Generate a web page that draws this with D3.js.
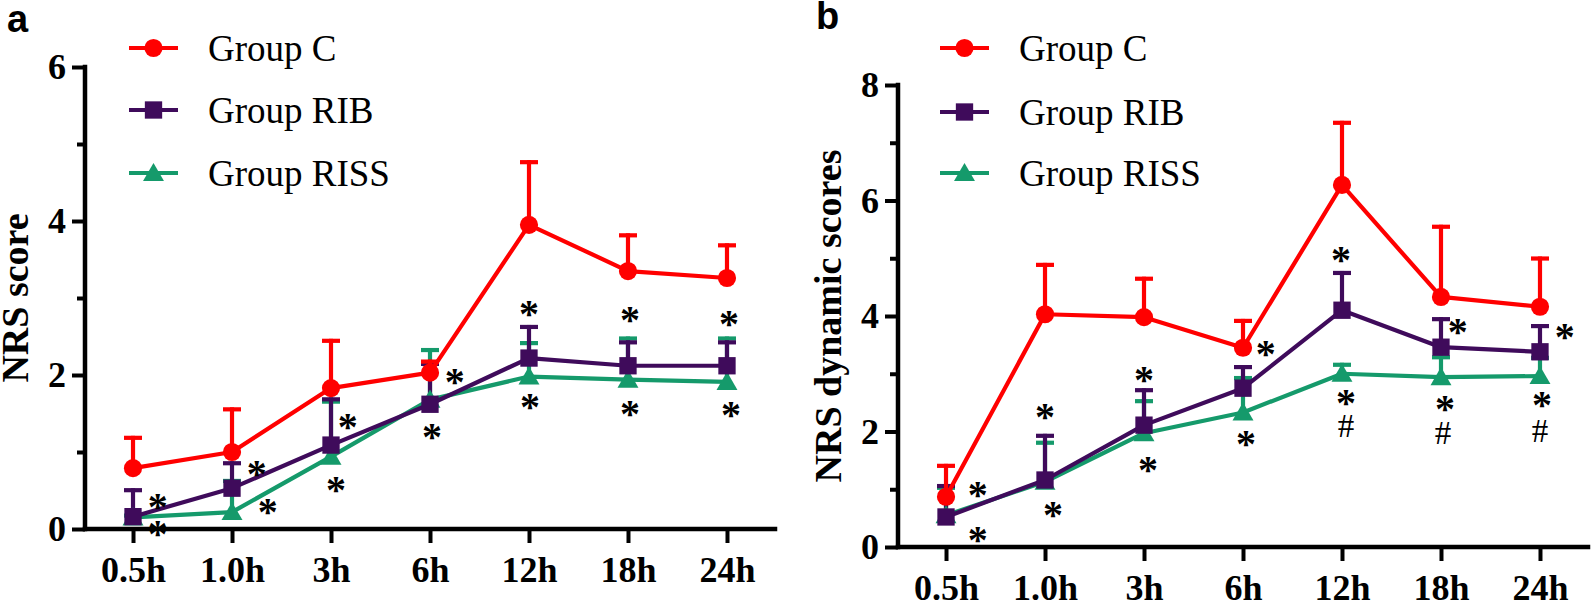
<!DOCTYPE html>
<html>
<head>
<meta charset="utf-8">
<script src="https://cdn.jsdelivr.net/npm/d3@7"></script>
<style>
  html, body { margin: 0; padding: 0; background: #fff; }
  svg { display: block; }
</style>
</head>
<body>
<svg id="chart" width="1594" height="603"></svg>
<script>
// ---------- DATA ----------
const timepoints = ["0.5h", "1.0h", "3h", "6h", "12h", "18h", "24h"];
const groupNames = ["Group C", "Group RIB", "Group RISS"];

// Panel a: NRS score (mean, SD)
const aC_mean    = [0.79, 1.00, 1.83, 2.03, 3.95, 3.35, 3.26];
const aC_sd      = [0.42, 0.58, 0.64, 0.17, 0.84, 0.49, 0.45];
const aRIB_mean  = [0.16, 0.53, 1.09, 1.62, 2.22, 2.12, 2.12];
const aRIB_sd    = [0.37, 0.35, 0.62, 0.55, 0.43, 0.33, 0.33];
const aRISS_mean = [0.15, 0.22, 0.94, 1.68, 1.98, 1.94, 1.91];
const aRISS_sd   = [0.05, 0.43, 0.74, 0.67, 0.46, 0.56, 0.59];
const aYTicks = [0, 2, 4, 6];
const aYMinor = [1, 3, 5];
// annotations: [fractional time index, y value, symbol]
const aMarks = [
  [0.25, 0.38, "*"], [0.25, 0.03, "*"],
  [1.25, 0.81, "*"], [1.36, 0.31, "*"],
  [2.17, 1.42, "*"], [2.05, 0.60, "*"],
  [3.25, 2.00, "*"], [3.02, 1.29, "*"],
  [4.00, 2.88, "*"], [4.01, 1.68, "*"],
  [5.02, 2.81, "*"], [5.02, 1.58, "*"],
  [6.02, 2.75, "*"], [6.04, 1.57, "*"]
];

// Panel b: NRS dynamic scores (mean, SD)
const bC_mean    = [0.87, 4.03, 3.98, 3.45, 6.27, 4.33, 4.16];
const bC_sd      = [0.57, 0.89, 0.70, 0.50, 1.11, 1.25, 0.87];
const bRIB_mean  = [0.52, 1.16, 2.11, 2.75, 4.10, 3.46, 3.38];
const bRIB_sd    = [0.57, 0.80, 0.64, 0.40, 0.68, 0.52, 0.48];
const bRISS_mean = [0.55, 1.13, 1.97, 2.33, 3.00, 2.94, 2.96];
const bRISS_sd   = [0.51, 0.71, 0.59, 0.63, 0.19, 0.38, 0.35];
const bYTicks = [0, 2, 4, 6, 8];
const bYMinor = [1, 3, 5, 7];
const bMarks = [
  [0.32, 1.02, "*"], [0.32, 0.24, "*"],
  [1.00, 2.37, "*"], [1.08, 0.68, "*"],
  [2.00, 3.01, "*"], [2.04, 1.45, "*"],
  [3.23, 3.46, "*"], [3.03, 1.90, "*"],
  [3.99, 5.09, "*"], [4.04, 2.62, "*"], [4.04, 2.12, "#"],
  [5.17, 3.84, "*"], [5.04, 2.51, "*"], [5.02, 1.99, "#"],
  [6.25, 3.76, "*"], [6.02, 2.58, "*"], [6.00, 2.02, "#"]
];

// ---------- STYLE ----------
const colors = { "Group C": "#ff0000", "Group RIB": "#3f0b5b", "Group RISS": "#159a6b" };
const symbols = { "Group C": d3.symbolCircle, "Group RIB": d3.symbolSquare, "Group RISS": d3.symbolTriangle };
const symSize = { "Group C": 260, "Group RIB": 300, "Group RISS": 190 };
const serif = "'Liberation Serif', 'Times New Roman', serif";

const svg = d3.select("#chart");

function drawPanel(cfg) {
  const g = svg.append("g");
  const x = d3.scalePoint().domain(timepoints).range([cfg.left, cfg.right]).padding(0.485);
  const y = d3.scaleLinear().domain([0, cfg.yMax]).range([cfg.bottom, cfg.top]);
  const xi = i => x(timepoints[0]) + i * x.step();

  // Axes
  const yAxis = d3.axisLeft(y).tickValues(cfg.yTicks).tickSize(13).tickPadding(6).tickFormat(d3.format("d"));
  const yMinor = d3.axisLeft(y).tickValues(cfg.yMinor).tickSize(8).tickFormat("");
  const xAxis = d3.axisBottom(x).tickSize(14).tickPadding(13);

  const gx = g.append("g").attr("transform", `translate(0,${cfg.bottom})`).call(xAxis);
  const gy = g.append("g").attr("transform", `translate(${cfg.left},0)`).call(yAxis);
  const gym = g.append("g").attr("transform", `translate(${cfg.left},0)`).call(yMinor);
  gym.select(".domain").remove();
  [gx, gy, gym].forEach(a => {
    a.selectAll(".domain").attr("stroke", "#000").attr("stroke-width", 4.5).attr("stroke-linecap", "square");
    a.selectAll(".tick line").attr("stroke", "#000").attr("stroke-width", 4);
    a.selectAll("text").attr("fill", "#000").style("font-family", serif)
      .style("font-weight", "bold").style("font-size", "36px");
  });
  gx.select(".domain").attr("d", `M${cfg.left},0H${cfg.right}`);
  gy.select(".domain").attr("d", `M0,${y(0)}V${y(cfg.yMax)}`);

  // y label
  g.append("text")
    .attr("transform", `translate(${cfg.labelX},${(cfg.top + cfg.bottom) / 2}) rotate(-90)`)
    .attr("text-anchor", "middle")
    .style("font-family", serif).style("font-weight", "bold").style("font-size", "38px")
    .text(cfg.yLabel);

  // panel letter
  g.append("text").attr("x", cfg.letterX).attr("y", cfg.letterY)
    .style("font-family", "'Liberation Sans', Arial, sans-serif").style("font-weight", "bold")
    .style("font-size", "38px").text(cfg.letter);

  const series = [
    { name: "Group RISS", mean: cfg.data[2][0], sd: cfg.data[2][1] },
    { name: "Group RIB", mean: cfg.data[1][0], sd: cfg.data[1][1] },
    { name: "Group C", mean: cfg.data[0][0], sd: cfg.data[0][1] }
  ];

  // error bars (upper only)
  series.forEach(s => {
    const eg = g.append("g");
    timepoints.forEach((t, i) => {
      const cx = x(t), y0 = y(s.mean[i]), y1 = y(s.mean[i] + s.sd[i]);
      eg.append("line").attr("x1", cx).attr("x2", cx).attr("y1", y0).attr("y2", y1)
        .attr("stroke", colors[s.name]).attr("stroke-width", 4.2);
      eg.append("line").attr("x1", cx - 9).attr("x2", cx + 9).attr("y1", y1 + 2).attr("y2", y1 + 2)
        .attr("stroke", colors[s.name]).attr("stroke-width", 4.2);
    });
  });

  // lines + markers
  const line = d3.line().x((d, i) => x(timepoints[i])).y(d => y(d));
  series.forEach(s => {
    g.append("path").datum(s.mean).attr("d", line).attr("fill", "none")
      .attr("stroke", colors[s.name]).attr("stroke-width", 4.2).attr("stroke-linejoin", "round");
    g.append("g").selectAll("path").data(s.mean).join("path")
      .attr("transform", (d, i) => `translate(${x(timepoints[i])},${y(d) + (s.name === "Group RISS" ? 2 : 0)})`)
      .attr("d", d3.symbol().type(symbols[s.name]).size(symSize[s.name]))
      .attr("fill", colors[s.name]);
  });

  // annotations
  g.append("g").selectAll("text").data(cfg.marks).join("text")
    .attr("x", d => xi(d[0]))
    .attr("y", d => d[2] === "*" ? y(d[1]) + 20 : y(d[1]) + 12)
    .attr("text-anchor", "middle")
    .style("font-family", serif)
    .style("font-weight", d => d[2] === "*" ? "bold" : "normal")
    .style("font-size", d => d[2] === "*" ? "40px" : "33px")
    .text(d => d[2]);

  // legend
  const lg = g.append("g");
  groupNames.forEach((name, k) => {
    const ly = cfg.legendY[k];
    lg.append("line").attr("x1", cfg.legendX).attr("x2", cfg.legendX + 49).attr("y1", ly).attr("y2", ly)
      .attr("stroke", colors[name]).attr("stroke-width", 4.2);
    lg.append("path").attr("transform", `translate(${cfg.legendX + 24.5},${ly + (name === "Group RISS" ? 2 : 0)})`)
      .attr("d", d3.symbol().type(symbols[name]).size(symSize[name])).attr("fill", colors[name]);
    lg.append("text").attr("x", cfg.legendX + 79).attr("y", ly + 13)
      .style("font-family", serif).style("font-size", "37px").text(name);
  });
}

drawPanel({
  left: 85, right: 775, top: 67, bottom: 529, yMax: 6,
  yTicks: aYTicks, yMinor: aYMinor, yLabel: "NRS score", labelX: 28,
  letter: "a", letterX: 7, letterY: 32,
  data: [[aC_mean, aC_sd], [aRIB_mean, aRIB_sd], [aRISS_mean, aRISS_sd]],
  marks: aMarks, legendX: 129, legendY: [48, 110, 173]
});

drawPanel({
  left: 898, right: 1588, top: 85, bottom: 547, yMax: 8,
  yTicks: bYTicks, yMinor: bYMinor, yLabel: "NRS dynamic scores", labelX: 841,
  letter: "b", letterX: 816, letterY: 29,
  data: [[bC_mean, bC_sd], [bRIB_mean, bRIB_sd], [bRISS_mean, bRISS_sd]],
  marks: bMarks, legendX: 940, legendY: [48, 112, 173]
});
</script>
</body>
</html>
